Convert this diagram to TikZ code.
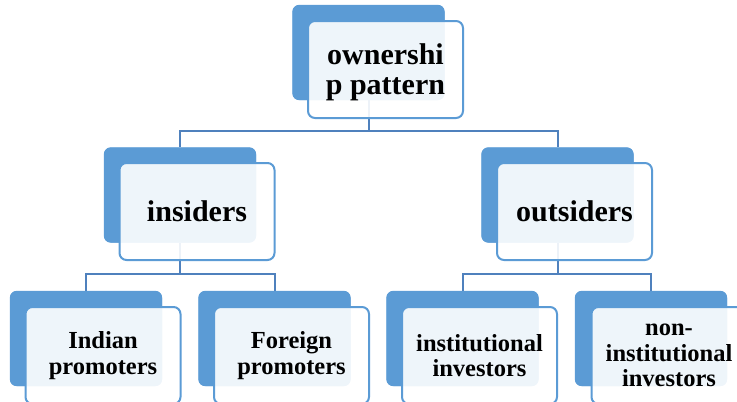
\documentclass[tikz,border=0pt]{standalone}
\usepackage{fontspec}
\setmainfont{Liberation Serif}
\usetikzlibrary{positioning}
\definecolor{smartblue}{RGB}{91,155,213}
\definecolor{linkblue}{RGB}{79,129,189}

\begin{document}
\begin{tikzpicture}[x=1pt, y=-1pt,
    backbox/.style={fill=smartblue, rounded corners=7pt, inner sep=0pt,
                    minimum width=152pt, minimum height=95pt},
    frontbox/.style={draw=smartblue, line width=2pt, fill=white, fill opacity=0.9,
                     text opacity=1, rounded corners=7pt, inner sep=0pt, align=center,
                     minimum width=155pt, minimum height=97pt},
    bigtext/.style={font=\bfseries\fontsize{30}{30}\selectfont},
    smalltext/.style={font=\bfseries\fontsize{24.5}{25.5}\selectfont},
    link/.style={draw=linkblue, line width=2pt}]

    \clip (0,0) rectangle (737,402);

    % back boxes
    \node[backbox] (ownB) at (368.5,52.5) {};
    \node[backbox] (insB) at (180,195) {};
    \node[backbox] (outB) at (557.5,195) {};
    \node[backbox] (indB) at (86,338.5) {};
    \node[backbox] (forB) at (274.5,338.5) {};
    \node[backbox] (insvB) at (462.5,338.5) {};
    \node[backbox] (ninvB) at (651,338.5) {};

    % connectors
    \draw[link] (ownB.south) -- ++(0,31) -| (insB.north);
    \draw[link] (ownB.south) -- ++(0,31) -| (outB.north);
    \foreach \a/\b in {insB/indB, insB/forB, outB/insvB, outB/ninvB}
    \draw[link] (\a.south) -- ++(0,31.5) -| (\b.north);

    % back boxes again, over the lines
    \foreach \b in {ownB, insB, outB, indB, forB, insvB, ninvB}
    \fill[smartblue, rounded corners=7pt] (\b.north west) rectangle (\b.south east);

    % front boxes
    \node[frontbox, bigtext, text depth=-4pt] (own) at ([shift={(17pt,-17pt)}]ownB.center) {ownershi\\p pattern};
    \node[frontbox, bigtext] (ins) at ([shift={(17pt,-16.5pt)}]insB.center) {insiders};
    \node[frontbox, bigtext] (out) at ([shift={(17pt,-16.5pt)}]outB.center) {outsiders};
    \node[frontbox, smalltext] (ind) at ([shift={(17pt,-17pt)}]indB.center) {Indian\\promoters};
    \node[frontbox, smalltext] (for) at ([shift={(17pt,-17pt)}]forB.center) {Foreign\\promoters};
    \node[frontbox, smalltext] (insv) at ([shift={(17pt,-17pt)}]insvB.center) {institutional\\investors};
    \node[frontbox, smalltext] (ninv) at ([shift={(18pt,-17pt)}]ninvB.center) {non-\\institutional\\investors};

\end{tikzpicture}
\end{document}
